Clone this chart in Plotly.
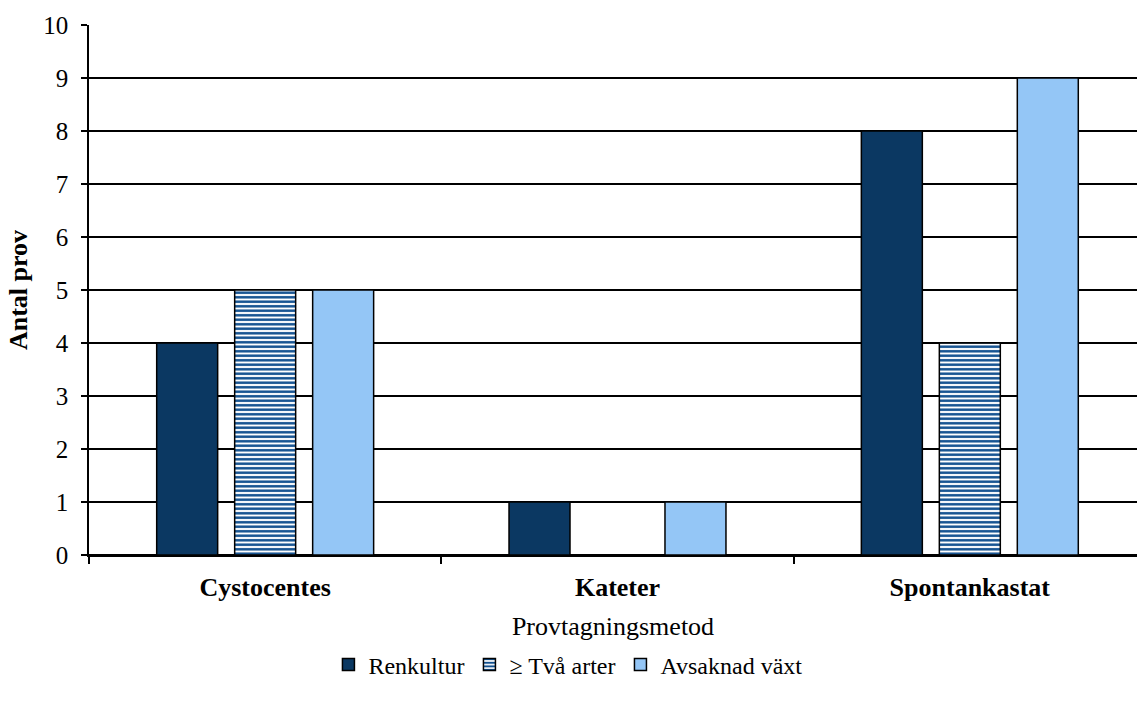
import plotly.graph_objects as go

categories = ["Cystocentes", "Kateter", "Spontankastat"]
renkultur = [4, 1, 8]
tva_arter = [5, 0, 4]
avsaknad = [5, 1, 9]
series_names = ["Renkultur", "≥ Två arter", "Avsaknad växt"]
y_ticks = list(range(0, 11))

FONT = "Liberation Serif"
DARK = "#0b3862"
STRIPE = "#11508f"
LIGHT = "#94c6f6"

fig = go.Figure()
fig.add_trace(go.Bar(
    x=categories, y=renkultur, name=series_names[0],
    marker=dict(color=DARK, line=dict(color="black", width=1.5)),
))
fig.add_trace(go.Bar(
    x=categories, y=tva_arter, name=series_names[1],
    marker=dict(color="white", line=dict(color="black", width=1.5),
                pattern=dict(shape="-", fgcolor=STRIPE, bgcolor="white",
                             size=4.5, solidity=0.55, fillmode="replace")),
))
fig.add_trace(go.Bar(
    x=categories, y=avsaknad, name=series_names[2],
    marker=dict(color=LIGHT, line=dict(color="black", width=1.5)),
))

fig.update_layout(
    width=1137, height=704,
    margin=dict(l=89, r=0, t=25, b=149),
    paper_bgcolor="white", plot_bgcolor="white",
    font=dict(family=FONT, size=26, color="black"),
    barmode="group", bargap=0.336, bargroupgap=0.218,
    showlegend=True,
    legend=dict(orientation="h", x=0.457, xanchor="center",
                y=-0.2075, yanchor="middle", font=dict(size=24, family=FONT),
                itemwidth=30, traceorder="normal", tracegroupgap=0),
    xaxis=dict(
        type="category", range=[-0.5, 2.4745],
        tickson="boundaries", ticks="outside", ticklen=7, tickcolor="black",
        tickwidth=1.5, showline=True, linecolor="black", linewidth=1.5,
        showgrid=False, ticklabelstandoff=8, tickangle=0,
        tickfont=dict(size=26, family=FONT),
        tickvals=categories,
        ticktext=[f"<b>{c}</b>" for c in categories],
        title=dict(text="Provtagningsmetod", font=dict(size=26, family=FONT), standoff=16),
    ),
    yaxis=dict(
        range=[0, 10], tickvals=y_ticks, ticks="outside", ticklen=6,
        tickcolor="black", tickwidth=1.5,
        showline=True, linecolor="black", linewidth=1.5,
        showgrid=True, gridcolor="black", gridwidth=1.5,
        zeroline=True, zerolinecolor="black", zerolinewidth=1.5,
        ticklabelstandoff=8,
        tickfont=dict(size=25, family=FONT),
        title=dict(text="<b>Antal prov</b>", font=dict(size=26, family=FONT), standoff=8),
    ),
)

fig.write_html("out.html")
